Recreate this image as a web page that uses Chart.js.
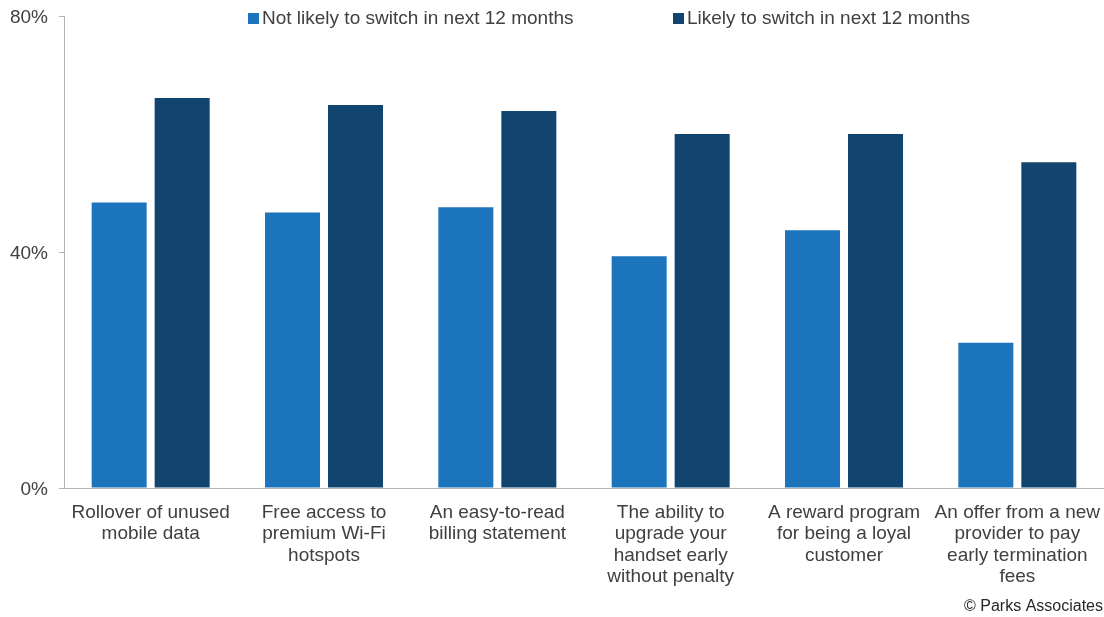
<!DOCTYPE html>
<html>
<head>
<meta charset="utf-8">
<script src="https://cdn.jsdelivr.net/npm/chart.js@4/dist/chart.umd.min.js"></script>
<style>
  html, body { margin: 0; padding: 0; background: #fff; }
  #wrap { width: 1104px; height: 617px; }
</style>
</head>
<body>
<div id="wrap"><canvas id="chart"></canvas></div>
<script>
const categories = [
  ["Rollover of unused", "mobile data"],
  ["Free access to", "premium Wi-Fi", "hotspots"],
  ["An easy-to-read", "billing statement"],
  ["The ability to", "upgrade your", "handset early", "without penalty"],
  ["A reward program", "for being a loyal", "customer"],
  ["An offer from a new", "provider to pay", "early termination", "fees"]
];
const notLikely = [48.4, 46.7, 47.6, 39.3, 43.7, 24.6];
const likely = [66.1, 64.9, 63.9, 60.0, 60.0, 55.2];
const seriesNames = ["Not likely to switch in next 12 months", "Likely to switch in next 12 months"];
const yTicks = [0, 40, 80];

const textColor = "#404040";
const axisColor = "#b4b4b4";
const font = "Liberation Sans, Arial, sans-serif";

// legend sits inside the plot area, so draw it by hand
const extras = {
  id: "extras",
  afterDraw(chart) {
    const ctx = chart.ctx;
    const starts = [248, 673];
    ctx.save();
    ctx.font = "19px " + font;
    ctx.textBaseline = "middle";
    chart.data.datasets.forEach((ds, i) => {
      ctx.fillStyle = ds.backgroundColor;
      ctx.fillRect(starts[i], 13, 11, 11);
      ctx.fillStyle = textColor;
      ctx.textAlign = "left";
      ctx.fillText(ds.label, starts[i] + 14, 19);
    });
    ctx.font = "16px " + font;
    ctx.fillStyle = "#262626";
    ctx.textAlign = "right";
    ctx.fillText("\u00a9 Parks Associates", 1103, 607);
    ctx.restore();
  }
};

new Chart(document.getElementById("chart"), {
  type: "bar",
  data: {
    labels: categories,
    datasets: [
      { label: seriesNames[0], data: notLikely, backgroundColor: "#1c75bc" },
      { label: seriesNames[1], data: likely, backgroundColor: "#11446e" }
    ]
  },
  options: {
    responsive: true,
    maintainAspectRatio: false,
    animation: false,
    layout: { padding: { top: 16, left: 0, right: 0, bottom: 0 } },
    categoryPercentage: 0.727,
    barPercentage: 0.873,
    plugins: { legend: { display: false }, tooltip: { enabled: false } },
    scales: {
      x: {
        grid: { display: false, drawTicks: false },
        border: { display: true, color: axisColor, width: 1 },
        ticks: {
          color: textColor,
          font: { family: font, size: 19, lineHeight: 1.13 },
          padding: 14,
          maxRotation: 0,
          autoSkip: false
        },
        afterFit: s => { s.height = 129; s.paddingLeft = 0; s.paddingRight = 0; }
      },
      y: {
        min: 0,
        max: 80,
        afterBuildTicks: s => { s.ticks = yTicks.map(v => ({ value: v })); },
        grid: { display: true, drawOnChartArea: false, drawTicks: true, tickLength: 5, color: axisColor },
        border: { display: true, color: axisColor, width: 1 },
        ticks: {
          color: textColor,
          font: { family: font, size: 19 },
          padding: 11,
          labelOffset: 2,
          callback: v => v + "%"
        },
        afterFit: s => { s.width = 64; s.paddingTop = 0; s.paddingBottom = 0; }
      }
    }
  },
  plugins: [extras]
});
</script>
</body>
</html>
